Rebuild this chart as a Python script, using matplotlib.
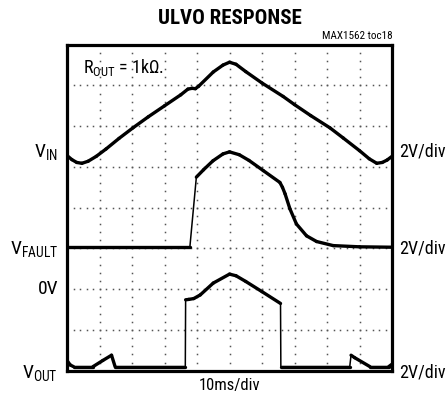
"""
ULVO response - scope capture (MAX1562 toc18)
"""
import numpy as np
import matplotlib
matplotlib.use("Agg")
import matplotlib.pyplot as plt

plt.rcParams["font.family"] = ["Roboto Condensed", "DejaVu Sans"]
plt.rcParams["mathtext.fontset"] = "custom"
plt.rcParams["mathtext.rm"] = "Roboto Condensed"

# traces, in scope divisions (x: 0..10, y: 0..8 from bottom)
vin_x = [0, 0.15, 0.3, 0.46, 0.65, 0.9, 1.2, 1.6, 2.03, 2.5, 3.0, 3.5, 3.72,
         3.85, 3.95, 4.05, 4.5, 4.8, 5.0, 5.2, 5.5, 6.0, 6.65, 7.0, 7.5, 8.09,
         8.5, 9.0, 9.3, 9.53, 9.7, 9.85, 10]
vin_y = [5.28, 5.18, 5.11, 5.09, 5.14, 5.26, 5.44, 5.70, 5.96, 6.23, 6.50,
         6.77, 6.91, 6.93, 6.92, 6.98, 7.33, 7.50, 7.57, 7.52, 7.34, 7.06,
         6.73, 6.53, 6.26, 5.96, 5.71, 5.40, 5.20, 5.09, 5.11, 5.17, 5.26]

vfault_x = [0, 3.78, 3.98, 4.2, 4.49, 4.8, 5.0, 5.3, 5.6, 6.04, 6.55, 6.63,
            6.71, 6.86, 7.06, 7.37, 7.68, 8.19, 9.0, 10]
vfault_y = [3.03, 3.03, 4.75, 4.93, 5.15, 5.32, 5.37, 5.30, 5.16, 4.91, 4.62,
            4.50, 4.34, 3.97, 3.60, 3.31, 3.17, 3.07, 3.04, 3.03]

vout_x = [0, 0.1, 0.2, 0.8, 1.1, 1.37, 1.48, 3.64, 3.65, 3.75, 3.9, 4.1, 4.5,
          5.0, 5.2, 5.5, 6.0, 6.57, 6.58, 8.70, 8.74, 8.85, 9.32, 9.9, 10]
vout_y = [0.25, 0.14, 0.10, 0.10, 0.25, 0.38, 0.10, 0.10, 1.74, 1.75, 1.77,
          1.86, 2.15, 2.37, 2.33, 2.19, 1.94, 1.65, 0.10, 0.10, 0.38, 0.32,
          0.10, 0.10, 0.16]

left_labels = [(r"$\mathregular{V_{IN}}$", 152), (r"$\mathregular{V_{FAULT}}$", 249),
               ("0V", 289), (r"$\mathregular{V_{OUT}}$", 373)]
right_labels = [("2V/div", 152), ("2V/div", 249), ("2V/div", 373)]

W, H = 448, 402


def px(x, y):
    return x / W, 1 - y / H


def trace(ax, xs, ys):
    xs = np.asarray(xs, float)
    ys = np.asarray(ys, float)
    # thin line everywhere, thick line only where the signal moves slowly
    ax.plot(xs, ys, color="black", lw=1.1, solid_joinstyle="round")
    slope = np.abs(np.diff(ys)) / np.maximum(np.diff(xs), 1e-6)
    for i in range(len(xs) - 1):
        if slope[i] < 4:
            ax.plot(xs[i:i + 2], ys[i:i + 2], color="black", lw=2.4,
                    solid_capstyle="round")


fig = plt.figure(figsize=(W / 100, H / 100), dpi=100)
ax = fig.add_axes([67 / W, 1 - 371.7 / H, 325 / W, 326 / H])
ax.set_xlim(0, 10)
ax.set_ylim(0, 8)
ax.set_xticks([])
ax.set_yticks([])
for s in ax.spines.values():
    s.set_linewidth(2.3)

# dotted graticule
for k in range(1, 10):
    yy = np.arange(0, 8.01, 0.2)
    ax.plot(np.full_like(yy, k), yy, ls="none", marker="s", ms=1.1,
            mec="none", color="#555555")
for j in range(1, 8):
    xx = np.arange(0, 10.01, 0.2)
    ax.plot(xx, np.full_like(xx, j), ls="none", marker="s", ms=1.1,
            mec="none", color="#555555")

trace(ax, vin_x, vin_y)
trace(ax, vfault_x, vfault_y)
trace(ax, vout_x, vout_y)

fig.text(*px(230, 19), "ULVO RESPONSE", ha="center", va="center",
         fontsize=15, fontweight="bold")
fig.text(*px(393, 36), "MAX1562 toc18", ha="right", va="center", fontsize=8)
fig.text(*px(83, 68), r"$\mathregular{R_{OUT}}$ = 1k$\mathregular{\Omega}$.",
         ha="left", va="center", fontsize=13)
for txt, y in left_labels:
    fig.text(*px(58, y), txt, ha="right", va="center", fontsize=14)
for txt, y in right_labels:
    fig.text(*px(399, y), txt, ha="left", va="center", fontsize=13)
fig.text(*px(230, 386), "10ms/div", ha="center", va="center", fontsize=12)

fig.savefig("out.png", dpi=100)
plt.close(fig)
